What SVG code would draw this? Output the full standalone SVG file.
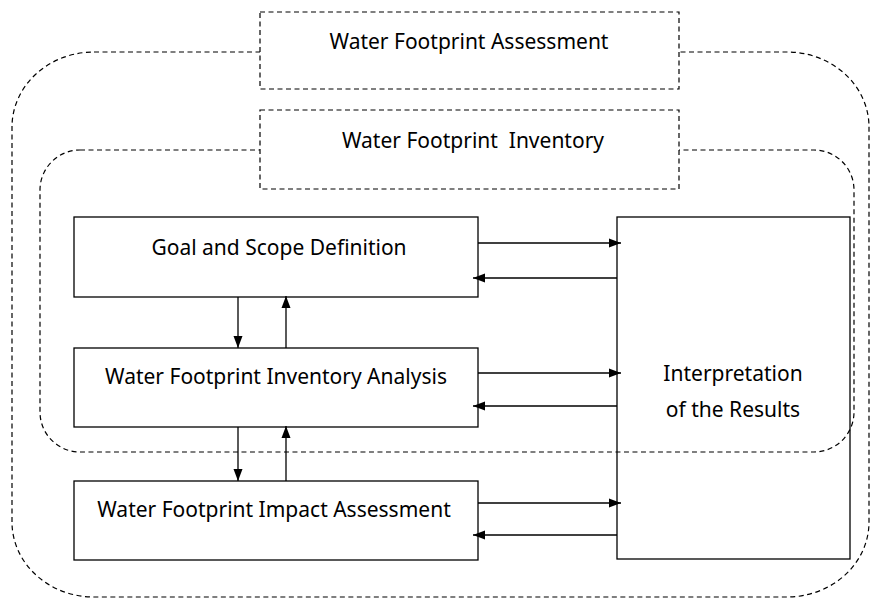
<svg xmlns="http://www.w3.org/2000/svg" width="872" height="600" viewBox="0 0 872 600">
<style>
.dash{fill:none;stroke:#000;stroke-width:1.2;stroke-dasharray:5 3.5}
.dashbox{fill:#fff;stroke:#000;stroke-width:1.2;stroke-dasharray:5 3.5}
.box{fill:#fff;stroke:#000;stroke-width:1.3}
.open{fill:none;stroke:#000;stroke-width:1.3}
.edge{stroke:#000;stroke-width:1.3;fill:none;marker-end:url(#ah)}
text{font-family:"Noto Sans","DejaVu Sans",sans-serif;font-size:21px;fill:#000;text-anchor:middle}
</style>
<defs>
<marker id="ah" viewBox="0 0 12 12" refX="12" refY="6" markerWidth="12" markerHeight="12" markerUnits="userSpaceOnUse" orient="auto">
<path d="M0,1.5 L12,6 L0,10.5 Z" fill="#000"/>
</marker>
</defs>
<rect width="872" height="600" fill="#fff"/>
<g id="outer-frame"><rect class="dash" x="12" y="52" width="857" height="545" rx="82" ry="75"/></g>
<g id="inventory-frame"><rect class="dash" x="40" y="150" width="814" height="302" rx="40" ry="40"/></g>
<g id="assessment-label">
<rect class="dashbox" x="260" y="12" width="419" height="77"/>
<text x="469" y="49">Water Footprint Assessment</text>
</g>
<g id="inventory-label">
<rect class="dashbox" x="260" y="110" width="419" height="79"/>
<text x="473" y="148" xml:space="preserve">Water Footprint  Inventory</text>
</g>
<g id="goal">
<rect class="box" x="74" y="217" width="404" height="80"/>
<text x="279" y="255">Goal and Scope Definition</text>
</g>
<g id="inventory-analysis">
<rect class="box" x="74" y="348" width="404" height="79"/>
<text x="276" y="384">Water Footprint Inventory Analysis</text>
</g>
<g id="impact">
<rect class="box" x="74" y="481" width="404" height="79"/>
<text x="274" y="517">Water Footprint Impact Assessment</text>
</g>
<g id="interpretation">
<rect class="open" x="617" y="217" width="233" height="342"/>
<text x="733" y="381">Interpretation</text>
<text x="733" y="417">of the Results</text>
</g>
<g id="connectors">
<line class="edge" x1="478" y1="243" x2="621" y2="243"/>
<line class="edge" x1="617" y1="278" x2="473" y2="278"/>
<line class="edge" x1="478" y1="373" x2="621" y2="373"/>
<line class="edge" x1="617" y1="406" x2="473" y2="406"/>
<line class="edge" x1="478" y1="503" x2="621" y2="503"/>
<line class="edge" x1="617" y1="535" x2="473" y2="535"/>
<line class="edge" x1="238" y1="297" x2="238" y2="348"/>
<line class="edge" x1="286" y1="348" x2="286" y2="296"/>
<line class="edge" x1="238" y1="427" x2="238" y2="481"/>
<line class="edge" x1="286" y1="481" x2="286" y2="426"/>
</g>
</svg>
